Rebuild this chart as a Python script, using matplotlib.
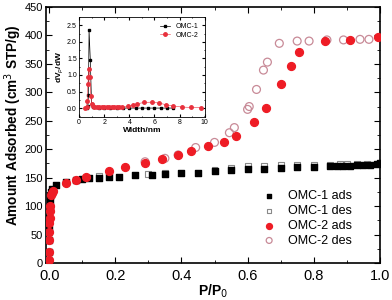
import matplotlib.pyplot as plt
import numpy as np
from matplotlib.ticker import MultipleLocator

plt.rcParams['font.family'] = ['Liberation Sans', 'DejaVu Sans']

# ---- isotherms ----
omc1_ads_p = [0.0, 0.0, 0.0, 0.0, 0.0, 0.001, 0.002, 0.003, 0.005, 0.008, 0.02, 0.05, 0.08, 0.10, 0.12,
              0.15, 0.18, 0.21, 0.26, 0.31, 0.35, 0.40, 0.45, 0.50, 0.55, 0.60, 0.65, 0.70,
              0.75, 0.80, 0.85, 0.87, 0.89, 0.91, 0.93, 0.95, 0.97, 0.99, 1.0]
omc1_ads_v = [3, 20, 40, 60, 80, 95, 108, 118, 125, 130, 138, 143, 146, 148, 149,
              150, 151, 152, 154, 155, 157, 158, 159, 161, 163, 165, 166, 167,
              168, 169, 170, 170, 171, 171, 172, 172, 173, 174, 175]
omc1_des_p = [0.15, 0.30, 0.35, 0.50, 0.55, 0.60, 0.65, 0.70, 0.75, 0.80, 0.85, 0.88, 0.90, 0.93, 0.96]
omc1_des_v = [153, 157, 158, 164, 167, 170, 171, 172, 173, 173, 173, 174, 174, 174, 175]

omc2_ads_p = [0.0, 0.0, 0.0, 0.0, 0.0, 0.001, 0.002, 0.003, 0.005, 0.008, 0.012, 0.05, 0.08, 0.11,
              0.18, 0.23, 0.29, 0.34, 0.39, 0.43, 0.48, 0.53, 0.566, 0.62, 0.656, 0.70,
              0.73, 0.756, 0.834, 0.91, 0.994]
omc2_ads_v = [5, 20, 40, 55, 70, 80, 92, 100, 120, 123, 126, 140, 146, 152,
              161, 169, 176, 182, 189, 197, 205, 213, 224, 247, 272, 314,
              347, 370, 390, 392, 398]
omc2_des_p = [0.29, 0.35, 0.39, 0.443, 0.50, 0.545, 0.56, 0.60, 0.605, 0.627, 0.648, 0.66,
              0.696, 0.75, 0.786, 0.84, 0.89, 0.94, 0.967]
omc2_des_v = [178, 184, 190, 203, 212, 229, 238, 270, 275, 305, 339, 353,
              386, 390, 390, 392, 392, 393, 393]

# ---- pore size distribution (inset) ----
psd1_w = [0.6, 0.7, 0.75, 0.8, 0.9, 1.0, 1.1, 1.3, 1.6, 2.0, 2.5, 3.0, 3.5, 4.0, 4.5, 5.0,
          5.5, 6.0, 6.5, 7.0, 7.5]
psd1_v = [0.0, 0.05, 0.38, 2.35, 1.45, 0.12, 0.04, 0.02, 0.01, 0.01, 0.0, 0.0, 0.0, 0.0, 0.0, 0.0,
          0.0, 0.0, 0.0, 0.0, 0.0]
psd2_w = [0.5, 0.6, 0.65, 0.7, 0.75, 0.8, 0.85, 0.95, 1.0, 1.1, 1.2, 1.4, 1.6, 1.8, 2.0, 2.2,
          2.4, 2.6, 2.8, 3.0, 3.2, 3.4, 3.9, 4.3, 4.6, 5.2, 5.8, 6.35, 6.95, 7.5, 8.2, 8.9, 9.7]
psd2_v = [0.0, 0.02, 0.22, 0.72, 0.93, 1.17, 0.95, 0.35, 0.12, 0.05, 0.03, 0.02, 0.02, 0.02, 0.02, 0.02,
          0.02, 0.02, 0.02, 0.02, 0.02, 0.03, 0.05, 0.09, 0.13, 0.17, 0.18, 0.15, 0.10, 0.06, 0.03, 0.02, 0.01]

red = '#ee1c25'
pink = '#c88a97'

fig = plt.figure(figsize=(3.92, 3.0), dpi=100)
ax = fig.add_axes([0.117, 0.123, 0.852, 0.854])

ax.scatter(omc1_ads_p, omc1_ads_v, marker='s', s=18, c='k', label='OMC-1 ads', zorder=3)
ax.scatter(omc1_des_p, omc1_des_v, marker='s', s=18, facecolors='none', edgecolors='#8a8a8a',
           linewidths=0.8, label='OMC-1 des', zorder=2)
ax.scatter(omc2_ads_p, omc2_ads_v, marker='o', s=32, c=red, label='OMC-2 ads', zorder=4)
ax.scatter(omc2_des_p, omc2_des_v, marker='o', s=32, facecolors='none', edgecolors=pink,
           linewidths=0.9, label='OMC-2 des', zorder=3)

ax.set_xlim(-0.01, 1.0)
ax.set_ylim(0, 450)
ax.xaxis.set_major_locator(MultipleLocator(0.2))
ax.xaxis.set_minor_locator(MultipleLocator(0.1))
ax.yaxis.set_major_locator(MultipleLocator(50))
ax.yaxis.set_minor_locator(MultipleLocator(25))
ax.tick_params(which='both', direction='in', top=True, right=True)
ax.tick_params(which='major', length=4)
ax.tick_params(which='minor', length=2)
ax.tick_params(axis='x', labelsize=10.5, pad=4)
ax.tick_params(axis='y', labelsize=8, pad=2)
ax.set_xlabel('P/P$_0$', fontsize=10, fontweight='bold', labelpad=0)
ax.set_ylabel('Amount Adsorbed (cm$^3$ STP/g)', fontsize=9.8, fontweight='bold')
ax.yaxis.set_label_coords(-0.066, 0.54)
ax.legend(loc='lower right', frameon=False, fontsize=9, handletextpad=0.5,
          labelspacing=0.22, markerscale=0.75, bbox_to_anchor=(0.95, 0.02))
for s in ax.spines.values():
    s.set_linewidth(1.2)

# inset
ins = fig.add_axes([0.2015, 0.61, 0.321, 0.333])
ins.plot(psd1_w, psd1_v, '-s', color='k', ms=2, lw=0.5, label='OMC-1')
ins.plot(psd2_w, psd2_v, '-o', color='#e8303c', ms=2.5, lw=0.4, label='OMC-2')
ins.set_xlim(0, 10)
ins.set_ylim(-0.27, 2.75)
ins.xaxis.set_major_locator(MultipleLocator(2))
ins.xaxis.set_minor_locator(MultipleLocator(1))
ins.yaxis.set_major_locator(MultipleLocator(0.5))
ins.yaxis.set_minor_locator(MultipleLocator(0.25))
ins.tick_params(which='both', direction='in', top=True, right=True, labelsize=5, length=2, pad=1.5)
ins.tick_params(which='minor', length=1)
ins.set_xlabel('Width/nm', fontsize=6, fontweight='bold', labelpad=1)
ins.set_ylabel('dV$_p$/dW', fontsize=6, fontweight='bold', labelpad=1)
ins.legend(loc='upper right', frameon=False, fontsize=5, handlelength=1.5, labelspacing=0.2)
for s in ins.spines.values():
    s.set_linewidth(0.6)

fig.savefig('out.png', dpi=100)
